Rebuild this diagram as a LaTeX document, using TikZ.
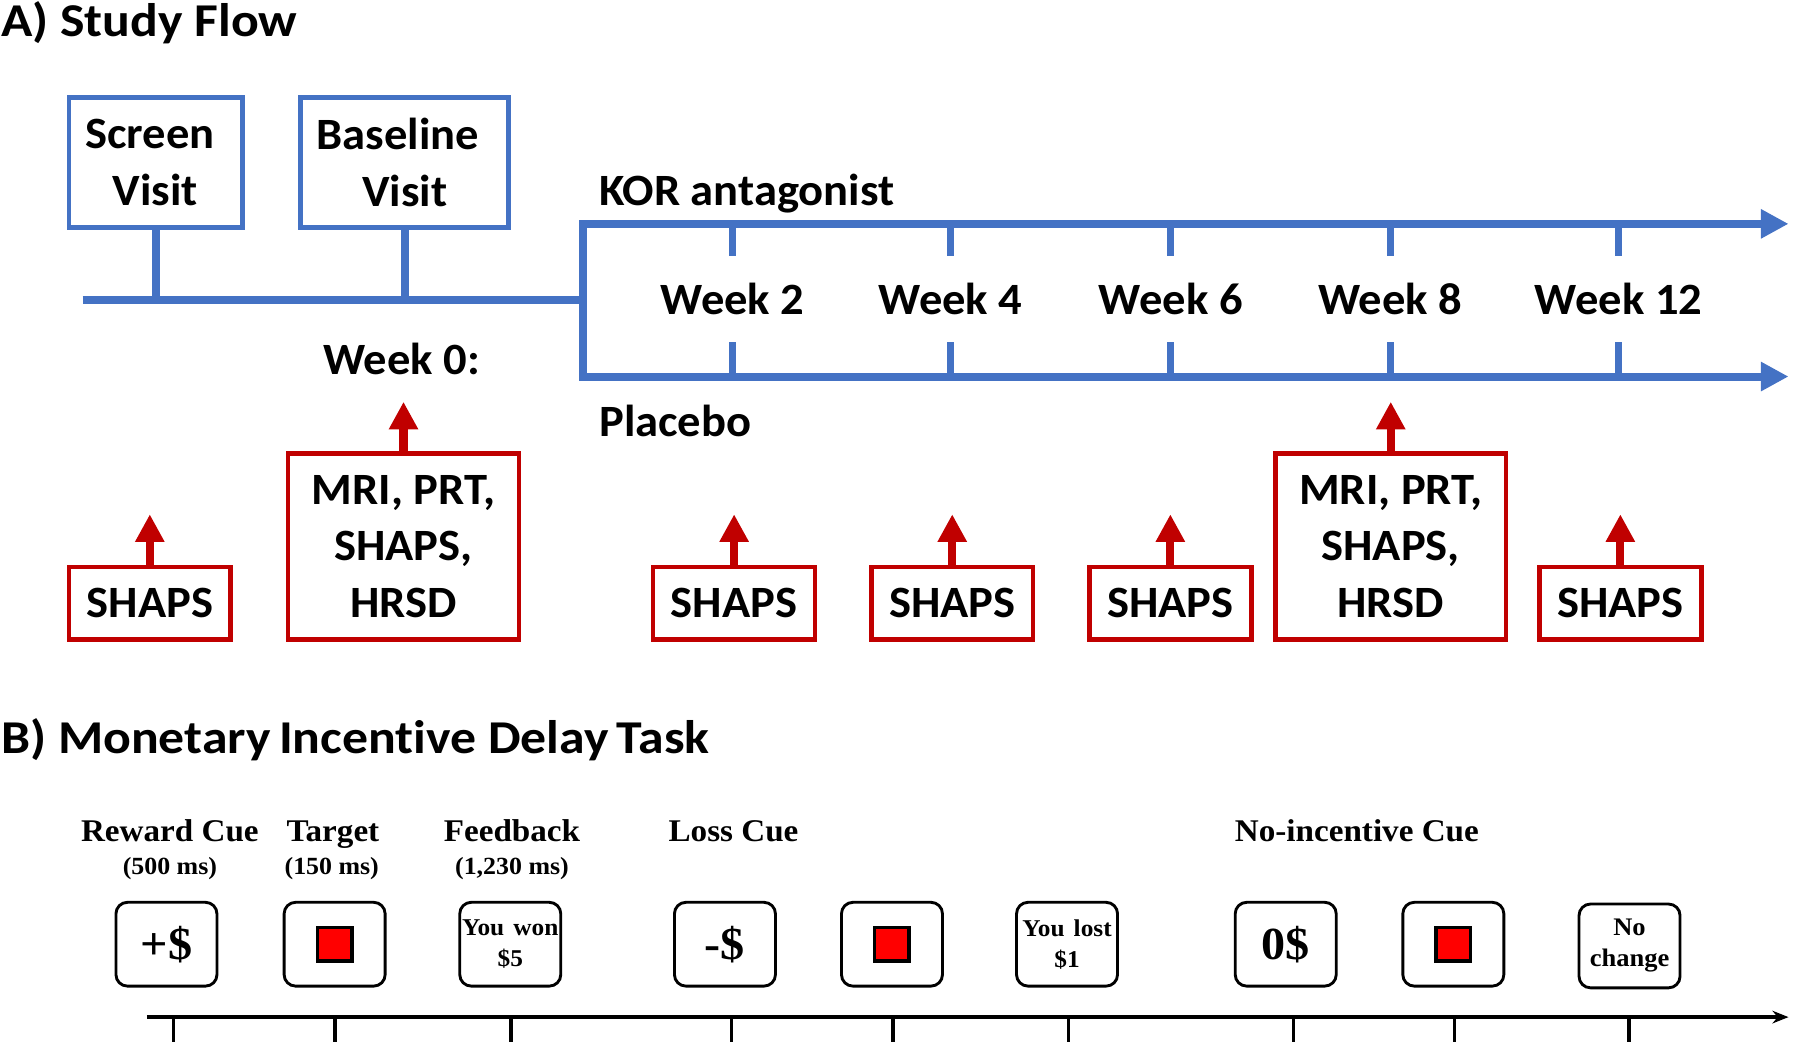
\documentclass[tikz,border=0pt]{standalone}
\usepackage{fontspec}
\setmainfont{Carlito}[FakeStretch=1.04]
\newfontfamily\calt{Carlito}[FakeStretch=1.1, Ligatures=NoCommon]
\newfontfamily\tnr{Liberation Serif}[FakeStretch=1.05]
\usetikzlibrary{arrows.meta}
\definecolor{kblue}{HTML}{4472C4}
\definecolor{kred}{HTML}{C00000}
\definecolor{tred}{HTML}{FF0000}
\begin{document}
\begin{tikzpicture}[x=1pt,y=-1pt,
  every node/.style={inner sep=0pt, outer sep=0pt},
  afont/.style={font=\fontsize{39}{49}\selectfont\bfseries},
  titlefont/.style={font={\calt\bfseries\fontsize{41}{50}\selectfont}},
  bluebox/.style={draw=kblue, line width=4pt, align=center, afont},
  redbox/.style={draw=kred, line width=4pt, align=center, afont},
  blueline/.style={draw=kblue, line width=7pt},
  tickline/.style={draw=kblue, line width=6pt},
  redarr/.style={draw=kred, line width=7pt, -{Triangle[length=24pt,width=24pt]}},
  blab/.style={font={\tnr\bfseries\fontsize{27.5}{30}\selectfont}, anchor=base},
  bsub/.style={font={\tnr\bfseries\fontsize{21.5}{24}\selectfont}, anchor=base},
  cuebox/.style={draw=black, line width=2.5pt, rounded corners=10pt, minimum width=88pt, minimum height=73pt, align=center},
  bigcue/.style={font={\tnr\bfseries\fontsize{40}{44}\selectfont}},
  smallcue/.style={font={\tnr\bfseries\fontsize{21}{27}\selectfont}},
  target/.style={draw=black, fill=tred, line width=3pt, minimum width=30pt, minimum height=29pt},
  axisline/.style={draw=black, line width=3pt},
]
\useasboundingbox (0,0) rectangle (1568,907);

% ---------------- Section A ----------------
\node[titlefont, anchor=base west] (titleA) at (1,32) {A) Study Flow};

\node[bluebox, minimum width=151pt, minimum height=113pt] (scr) at (135.5,141.5) {Screen\hspace*{10pt}\\Visit};
\node[bluebox, minimum width=181pt, minimum height=113pt] (base) at (352.5,141.5) {Baseline\hspace*{12pt}\\Visit};

\coordinate (h0) at (72,261);
\coordinate (hj) at (508,261);
\draw[blueline] (h0) -- (hj);
\draw[blueline] (scr.south) -- (scr.south |- h0);
\draw[blueline] (base.south) -- (base.south |- h0);

\coordinate (jt) at (508,195);
\coordinate (jb) at (508,328);
\coordinate (et) at (1558,195);
\coordinate (eb) at (1558,328);
\draw[blueline, line join=miter, {Triangle[length=24pt,width=24pt]}-{Triangle[length=24pt,width=24pt]}] (et) -- (jt) -- (jb) -- (eb);

\node[afont, anchor=west] (kor) at (522,169) {KOR antagonist};
\node[afont, anchor=west] (plac) at (522,367) {Placebo};
\node[afont] (wk0) at (350,313) {Week 0:};

\foreach \n/\x/\t in {w2/638/Week 2, w4/828/Week 4, w6/1020/Week 6, w8/1211/Week 8, w12/1410/Week 12}{
  \node[afont] (\n) at (\x,260) {\t};
  \draw[tickline] (\n |- jt) -- ++(0,28);
  \draw[tickline] (\n |- jb) -- ++(0,-30);
}

% red boxes
\node[redbox, minimum width=141pt, minimum height=63pt] (sh0) at (130.5,525.5) {SHAPS};
\node[redbox, minimum width=201pt, minimum height=162pt] (mri0) at (351.5,476) {MRI, PRT,\\SHAPS,\\HRSD};
\node[redbox, minimum width=141pt, minimum height=63pt] (sh2) at (639.5,525.5) {SHAPS};
\node[redbox, minimum width=141pt, minimum height=63pt] (sh4) at (829.5,525.5) {SHAPS};
\node[redbox, minimum width=141pt, minimum height=63pt] (sh6) at (1019.5,525.5) {SHAPS};
\node[redbox, minimum width=201pt, minimum height=162pt] (mri8) at (1211.5,476) {MRI, PRT,\\SHAPS,\\HRSD};
\node[redbox, minimum width=141pt, minimum height=63pt] (sh12) at (1411.5,525.5) {SHAPS};

\foreach \b in {sh0,sh2,sh4,sh6,sh12}{
  \draw[redarr] (\b.north) -- ++(0,-46);
}
\foreach \b in {mri0,mri8}{
  \draw[redarr] (\b.north) -- ++(0,-45);
}

% ---------------- Section B ----------------
\node[titlefont, anchor=base west] (titleB) at (1,656) {B) Monetary\hspace{-3pt} Incentive Delay\hspace{-3pt} Task};

\node[blab] (lrc) at (148,733) {Reward Cue};
\node[bsub] (lrcs) at (148,762) {(500 ms)};
\node[blab] (ltg) at (290,733) {Target};
\node[bsub] (ltgs) at (289,762) {(150 ms)};
\node[blab] (lfb) at (446,733) {Feedback};
\node[bsub] (lfbs) at (446,762) {(1,230 ms)};
\node[blab] (llc) at (639,733) {Loss Cue};
\node[blab] (lnc) at (1182,733) {No-incentive Cue};

\node[cuebox, bigcue] (b1) at (145,822.5) {+\$};
\node[cuebox] (b2) at (291.5,822.5) {};
\node[target] (r2) at (b2.center) {};
\node[cuebox, smallcue] (b3) at (444.5,822.5) {You\hspace{8pt}won\\\$5};
\node[cuebox, bigcue] (b4) at (631.5,822.5) {-\$};
\node[cuebox] (b5) at (777,822.5) {};
\node[target] (r5) at (b5.center) {};
\node[cuebox, smallcue] (b6) at (929.5,822.5) {You\hspace{8pt}lost\\\$1};
\node[cuebox, bigcue] (b7) at (1120,822.5) {0\$};
\node[cuebox] (b8) at (1266,822.5) {};
\node[target] (r8) at (b8.center) {};
\node[cuebox, smallcue, font={\tnr\bfseries\fontsize{22}{27}\selectfont}] (b9) at (1419.5,824) {No\\change};

\coordinate (a0) at (128,886);
\coordinate (a1) at (1558,886);
\draw[axisline, -{Stealth[length=14pt,width=11pt]}] (a0) -- (a1);
\foreach \x in {151,292,445,637,778,931,1127,1267,1419}{
  \draw[axisline] (\x,886) -- (\x,910);
}
\end{tikzpicture}
\end{document}
